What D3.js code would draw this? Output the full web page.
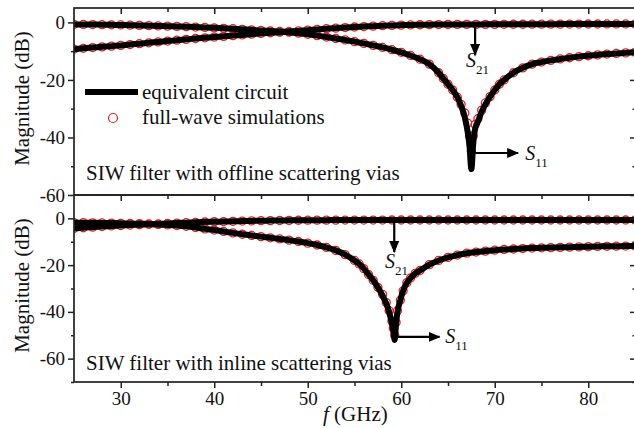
<!DOCTYPE html>
<html lang="en">
<head>
<meta charset="UTF-8" />
<title>SIW filter S-parameters</title>
<script src="https://d3js.org/d3.v7.min.js"></script>
<style>
  body { margin: 0; background: #fff; }
  svg { display: block; }
  svg text { font-family: "Liberation Serif", "Times New Roman", serif; }
  .tick text { font-size: 19px; fill: #111; }
  .tick line { stroke: #222; stroke-width: 1.5; }
</style>
</head>
<body>
<svg id="chart" width="634" height="428"></svg>
<script>
// --- data (frequency in GHz, magnitude in dB) ---
// S11 grid is refined around the notch
const freqTop = [25,26,27,28,29,30,31,32,33,34,35,36,37,38,39,40,41,42,43,44,
  45,46,47,48,49,50,51,52,53,54,55,56,57,58,59,60,61,62,63,64,
  64.5,65,65.5,66,66.4,66.8,67.1,67.3,67.5,67.7,67.9,68.2,68.6,69,69.5,70,70.5,71,
  72,73,74,75,76,77,78,79,80,81,82,83,84,85];

const s11TopCircuit = [-0.7,-0.72,-0.75,-0.8,-0.85,-0.9,-0.97,-1.05,-1.13,-1.22,
  -1.3,-1.4,-1.5,-1.62,-1.75,-1.9,-2.05,-2.2,-2.4,-2.6,
  -2.8,-3.0,-3.15,-3.4,-3.75,-4.15,-4.6,-5.1,-5.6,-6.1,
  -6.7,-7.3,-8.0,-8.7,-9.5,-10.4,-11.5,-12.8,-14.5,-17.5,
  -19.5,-21.5,-23.5,-26,-29,-33,-38,-43,-51,-42,-37,-34.5,-31,-28.5,-25.8,-23.5,-21.5,-20,
  -17.5,-15.8,-14.5,-13.8,-13.2,-12.7,-12.3,-11.9,-11.6,-11.3,-11.0,-10.8,-10.6,-10.4];

const s11TopSim = [-0.7,-0.72,-0.75,-0.8,-0.85,-0.9,-0.97,-1.05,-1.13,-1.22,
  -1.3,-1.4,-1.5,-1.62,-1.75,-1.9,-2.05,-2.2,-2.4,-2.6,
  -2.8,-3.0,-3.15,-3.4,-3.75,-4.15,-4.6,-5.1,-5.6,-6.1,
  -6.7,-7.3,-8.0,-8.7,-9.5,-10.4,-11.5,-12.8,-14.5,-17.5,
  -19.5,-21.5,-23.5,-26,-28.5,-31.5,-35,-39.5,-45,-39.5,-35.5,-33.5,-30.5,-28,-25.8,-23.5,-21.5,-20,
  -17.5,-15.8,-14.5,-13.8,-13.2,-12.7,-12.3,-11.9,-11.6,-11.3,-11.0,-10.8,-10.6,-10.4];

// S21 on a plain 1 GHz grid
const freqGrid = [25,26,27,28,29,30,31,32,33,34,35,36,37,38,39,40,41,42,43,44,
  45,46,47,48,49,50,51,52,53,54,55,56,57,58,59,60,61,62,63,64,
  65,66,67,68,69,70,71,72,73,74,75,76,77,78,79,80,81,82,83,84,85];

const s21Top = [-9.3,-9.0,-8.75,-8.5,-8.25,-8.0,-7.7,-7.4,-7.1,-6.8,
  -6.5,-6.2,-5.9,-5.6,-5.35,-5.1,-4.85,-4.6,-4.35,-4.1,
  -3.85,-3.6,-3.4,-3.2,-2.95,-2.7,-2.45,-2.2,-2.0,-1.8,
  -1.6,-1.45,-1.3,-1.15,-1.05,-0.95,-0.88,-0.82,-0.78,-0.75,
  -0.73,-0.7,-0.7,-0.7,-0.69,-0.68,-0.66,-0.65,-0.64,-0.63,
  -0.62,-0.61,-0.6,-0.59,-0.58,-0.57,-0.56,-0.55,-0.55,-0.55,-0.55];

const freqBot = [25,26,27,28,29,30,31,32,33,34,35,36,37,38,39,40,41,42,43,44,
  45,46,47,48,49,50,51,52,53,54,55,
  55.5,56,56.5,57,57.5,58,58.4,58.7,59,59.15,59.3,59.45,59.6,59.9,60.2,60.6,61,61.5,62,
  63,64,65,66,67,68,69,70,71,72,73,74,75,76,77,78,79,80,81,82,83,84,85];

const s11BotCircuit = [-1.8,-1.85,-1.9,-1.95,-2.0,-2.1,-2.2,-2.3,-2.4,-2.6,
  -2.8,-3.05,-3.4,-3.9,-4.5,-5.0,-5.6,-6.2,-6.8,-7.3,
  -7.8,-8.3,-8.8,-9.3,-9.9,-10.6,-11.4,-12.4,-13.7,-15.5,-18,
  -19.5,-21.5,-24,-26.5,-29.5,-33,-36.5,-40,-45,-48,-52,-45,-40,-35,-31,-27.5,-25.5,-23.5,-22.3,
  -19.8,-18.0,-16.7,-15.7,-14.9,-14.4,-14.0,-13.6,-13.3,-13.1,-12.9,-12.7,-12.6,-12.5,-12.4,-12.3,
  -12.2,-12.1,-12.0,-11.95,-11.9,-11.85,-11.8];

const s11BotSim = [-1.8,-1.85,-1.9,-1.95,-2.0,-2.1,-2.2,-2.3,-2.4,-2.6,
  -2.8,-3.05,-3.4,-3.9,-4.5,-5.0,-5.6,-6.2,-6.8,-7.3,
  -7.8,-8.3,-8.8,-9.3,-9.9,-10.6,-11.4,-12.4,-13.7,-15.5,-18,
  -19.5,-21.5,-24,-26.5,-29.5,-32.5,-36,-39.5,-44,-47,-50,-44.5,-39.5,-35,-31,-27.5,-25.5,-23.5,-22.3,
  -19.8,-18.0,-16.7,-15.7,-14.9,-14.4,-14.0,-13.6,-13.3,-13.1,-12.9,-12.7,-12.6,-12.5,-12.4,-12.3,
  -12.2,-12.1,-12.0,-11.95,-11.9,-11.85,-11.8];

const s21Bot = [-4.3,-4.0,-3.75,-3.5,-3.25,-3.05,-2.85,-2.7,-2.55,-2.4,
  -2.2,-2.0,-1.85,-1.7,-1.55,-1.45,-1.35,-1.25,-1.15,-1.08,
  -1.0,-0.95,-0.9,-0.85,-0.8,-0.78,-0.76,-0.75,-0.74,-0.73,-0.72,
  -0.72,-0.71,-0.71,-0.7,-0.7,-0.7,-0.7,-0.7,-0.7,-0.7,
  -0.7,-0.7,-0.7,-0.7,-0.7,-0.7,-0.7,-0.7,-0.7,-0.7,
  -0.7,-0.7,-0.7,-0.7,-0.7,-0.7,-0.7,-0.7,-0.7,-0.7];

const xMajor = [30, 40, 50, 60, 70, 80];
const xMinor = [35, 45, 55, 65, 75, 85];
const legendLabels = ["equivalent circuit", "full-wave simulations"];

// --- layout ---
const svg = d3.select("#chart");
const left = 74, right = 635;
const red = "#ee1c1c";
const serif = "Liberation Serif, Times New Roman, serif";
const x = d3.scaleLinear().domain([25, 85]).range([left, right]);

const panels = [
  { id: "top", top: 8, bottom: 195, domain: [-60, 5],
    major: [0, -20, -40, -60], minor: [-10, -30, -50],
    f: freqTop, s11: s11TopCircuit, s11sim: s11TopSim, s21: s21Top,
    title: "SIW filter with offline scattering vias", titleY: 180,
    s21Arrow: { f: 67.9, from: -1.1, to: -11.3, labelF: 66.93, labelV: -15.5 },
    s11Arrow: { v: -45.4, from: 67.9, to: 72.5, labelF: 73.25, labelV: -47.8 } },
  { id: "bot", top: 195, bottom: 382, domain: [-70, 10],
    major: [0, -20, -40, -60], minor: [-10, -30, -50, -70],
    f: freqBot, s11: s11BotCircuit, s11sim: s11BotSim, s21: s21Bot,
    title: "SIW filter with inline scattering vias", titleY: 370,
    s21Arrow: { f: 59.25, from: -1.2, to: -14.4, labelF: 58.26, labelV: -21.2 },
    s11Arrow: { v: -50.7, from: 59.45, to: 64.1, labelF: 64.7, labelV: -53.3 } }
];

const defs = svg.append("defs");
defs.append("marker")
  .attr("id", "head")
  .attr("markerUnits", "userSpaceOnUse")
  .attr("viewBox", "0 0 12 10")
  .attr("refX", 11).attr("refY", 5)
  .attr("markerWidth", 12).attr("markerHeight", 10)
  .attr("orient", "auto")
  .append("path").attr("d", "M0,0 L12,5 L0,10 Z").attr("fill", "#000");

const noDomain = a => a.select(".domain").remove();
const serifTicks = a => a.selectAll("text").attr("font-family", serif);

panels.forEach(p => {
  const y = d3.scaleLinear().domain(p.domain).range([p.bottom, p.top]);
  const g = svg.append("g");

  defs.append("clipPath").attr("id", "clip-" + p.id)
    .append("rect").attr("x", left).attr("y", p.top)
    .attr("width", right - left).attr("height", p.bottom - p.top);

  const plot = g.append("g").attr("clip-path", `url(#clip-${p.id})`);
  const line = d3.line().x(d => x(d[0])).y(d => y(d[1])).curve(d3.curveMonotoneX);

  const series = [
    { circuit: d3.zip(p.f, p.s11), sim: d3.zip(p.f, p.s11sim) },
    { circuit: d3.zip(freqGrid, p.s21), sim: d3.zip(freqGrid, p.s21) }
  ];

  series.forEach(s => {
    plot.append("g").selectAll("circle")
      .data(s.sim)
      .join("circle")
      .attr("cx", d => x(d[0]))
      .attr("cy", d => y(d[1]))
      .attr("r", 4)
      .attr("fill", "none")
      .attr("stroke", red)
      .attr("stroke-width", 1.3);
  });
  series.forEach(s => {
    plot.append("path")
      .datum(s.circuit)
      .attr("d", line)
      .attr("fill", "none")
      .attr("stroke", "#000")
      .attr("stroke-width", 6)
      .attr("stroke-linejoin", "round");
  });

  // axes
  g.append("g").attr("transform", `translate(${left},0)`)
    .call(d3.axisLeft(y).tickValues(p.major).tickSize(6).tickPadding(3).tickFormat(d => String(d)))
    .call(noDomain).call(serifTicks);
  g.append("g").attr("transform", `translate(${left},0)`)
    .call(d3.axisLeft(y).tickValues(p.minor).tickSize(3).tickFormat(""))
    .call(noDomain);
  g.append("g").attr("transform", `translate(${right},0)`)
    .call(d3.axisRight(y).tickValues(p.major).tickSize(-5).tickFormat(""))
    .call(noDomain);
  g.append("g").attr("transform", `translate(${right},0)`)
    .call(d3.axisRight(y).tickValues(p.minor).tickSize(-2.5).tickFormat(""))
    .call(noDomain);

  g.append("g").attr("transform", `translate(0,${p.top})`)
    .call(d3.axisBottom(x).tickValues(xMajor).tickSize(6).tickFormat(""))
    .call(noDomain);
  g.append("g").attr("transform", `translate(0,${p.top})`)
    .call(d3.axisBottom(x).tickValues(xMinor).tickSize(4).tickFormat(""))
    .call(noDomain);

  g.append("rect")
    .attr("x", left).attr("y", p.top)
    .attr("width", right - left).attr("height", p.bottom - p.top)
    .attr("fill", "none").attr("stroke", "#222").attr("stroke-width", 1.7);

  // y title
  g.append("text")
    .attr("transform", `translate(29,${(p.top + p.bottom) / 2 - 3}) rotate(-90)`)
    .attr("text-anchor", "middle")
    .attr("font-family", serif)
    .attr("font-size", 21)
    .attr("fill", "#111")
    .text("Magnitude (dB)");

  g.append("text")
    .attr("x", 86).attr("y", p.titleY)
    .attr("font-family", serif)
    .attr("font-size", 21).attr("fill", "#111")
    .text(p.title);

  // S21 / S11 annotations
  const a21 = p.s21Arrow, a11 = p.s11Arrow;
  g.append("line")
    .attr("x1", x(a21.f)).attr("x2", x(a21.f))
    .attr("y1", y(a21.from)).attr("y2", y(a21.to))
    .attr("stroke", "#000").attr("stroke-width", 2.2)
    .attr("marker-end", "url(#head)");
  g.append("line")
    .attr("x1", x(a11.from)).attr("x2", x(a11.to))
    .attr("y1", y(a11.v)).attr("y2", y(a11.v))
    .attr("stroke", "#000").attr("stroke-width", 2.2)
    .attr("marker-end", "url(#head)");

  [[a21, "21"], [a11, "11"]].forEach(([a, sub]) => {
    const t = g.append("text")
      .attr("x", x(a.labelF)).attr("y", y(a.labelV))
      .attr("font-family", serif)
      .attr("fill", "#111");
    t.append("tspan").attr("font-style", "italic").attr("font-size", 20).text("S");
    t.append("tspan").attr("font-size", 13).attr("dy", 7).text(sub);
  });
});

// bottom x axis with labels
svg.append("g").attr("transform", "translate(0,382)")
  .call(d3.axisBottom(x).tickValues(xMajor).tickSize(6).tickPadding(4).tickFormat(d => String(d)))
  .call(noDomain).call(serifTicks);
svg.append("g").attr("transform", "translate(0,382)")
  .call(d3.axisBottom(x).tickValues(xMinor).tickSize(4).tickFormat(""))
  .call(noDomain);

const xTitle = svg.append("text")
  .attr("x", 323).attr("y", 421)
  .attr("font-family", serif)
  .attr("font-size", 21).attr("fill", "#111");
xTitle.append("tspan").attr("font-style", "italic").text("f");
xTitle.append("tspan").text(" (GHz)");

// legend (top panel)
const legend = svg.append("g");
legend.append("line")
  .attr("x1", 85).attr("x2", 138).attr("y1", 92).attr("y2", 92)
  .attr("stroke", "#000").attr("stroke-width", 6);
legend.append("circle")
  .attr("cx", 113).attr("cy", 118).attr("r", 4.5)
  .attr("fill", "none").attr("stroke", red).attr("stroke-width", 1.2);
legend.selectAll("text.leg")
  .data(legendLabels)
  .join("text")
  .attr("class", "leg")
  .attr("x", 142)
  .attr("y", (d, i) => 99 + i * 25)
  .attr("font-family", serif)
  .attr("font-size", 21)
  .attr("fill", "#111")
  .text(d => d);
</script>
</body>
</html>
